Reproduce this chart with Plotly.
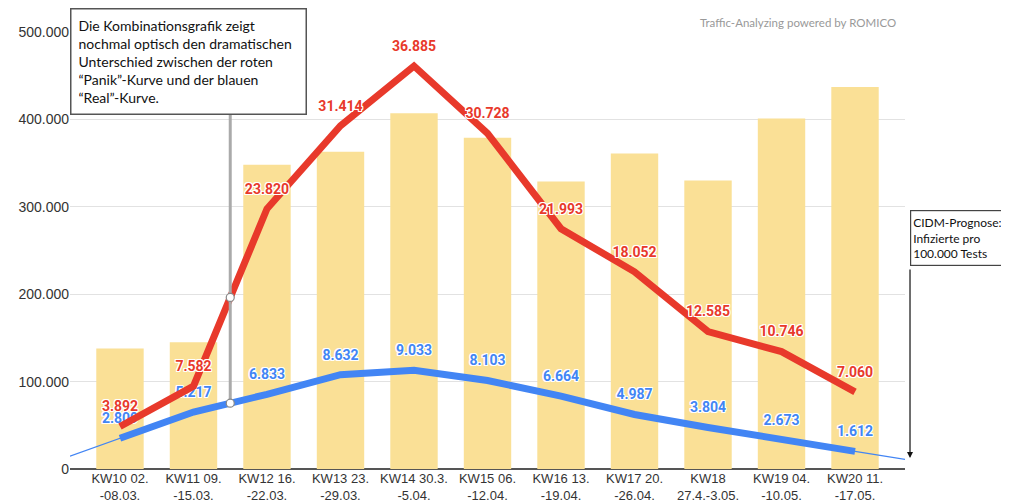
import plotly.graph_objects as go

categories = ["KW10 02.<br>-08.03.", "KW11 09.<br>-15.03.", "KW12 16.<br>-22.03.",
              "KW13 23.<br>-29.03.", "KW14 30.3.<br>-5.04.", "KW15 06.<br>-12.04.",
              "KW16 13.<br>-19.04.", "KW17 20.<br>-26.04.", "KW18<br>27.4.-3.05.",
              "KW19 04.<br>-10.05.", "KW20 11.<br>-17.05."]
tests = [138000, 145000, 348000, 363000, 407000, 379000, 329000, 361000, 330000, 401000, 437000]
panik = [3892, 7582, 23820, 31414, 36885, 30728, 21993, 18052, 12585, 10746, 7060]
real = [2809, 5217, 6833, 8632, 9033, 8103, 6664, 4987, 3804, 2673, 1612]

def fmt(v):
    return f"{v:,}".replace(",", ".")

idx = list(range(len(categories)))
XMIN, XMAX = -0.68, len(categories) - 1 + 0.68
Y2MAX = 40000

RED = "#E8392B"
BLUE = "#4285F4"
BAR = "#FAE096"

# thin extrapolated trend line for the blue series (from first and last segment)
ext_x = [XMIN] + idx + [XMAX + 0.2]
ext_y = ([real[0] - (real[1] - real[0]) * (0 - XMIN)] + real +
         [real[-1] + (real[-1] - real[-2]) * (XMAX + 0.2 - idx[-1])])

halo = "1px 1px 0 #fff, -1px -1px 0 #fff, 1px -1px 0 #fff, -1px 1px 0 #fff, 0 1px 0 #fff, 0 -1px 0 #fff, 1px 0 0 #fff, -1px 0 0 #fff"

fig = go.Figure()
fig.add_trace(go.Bar(x=idx, y=tests, marker=dict(color=BAR, line=dict(width=0)),
                     width=0.645, showlegend=False, hoverinfo="skip"))
fig.add_trace(go.Scatter(x=ext_x, y=ext_y, yaxis="y2", mode="lines",
                         line=dict(color=BLUE, width=1.2), showlegend=False, hoverinfo="skip"))
for series, col in ((real, BLUE), (panik, RED)):
    fig.add_trace(go.Scatter(x=idx, y=series, yaxis="y2", mode="lines+markers+text",
                             line=dict(color=col, width=7),
                             marker=dict(size=17, color="rgba(0,0,0,0)"),
                             text=[fmt(v) for v in series], textposition="top center",
                             textfont=dict(family="Roboto", size=14, color=col, weight="bold", shadow=halo),
                             cliponaxis=False, showlegend=False))

# pointer from the comment box (midway between KW11 and KW12)
px_ = 1.5
red_mid = (panik[1] + panik[2]) / 2
blue_mid = (real[1] + real[2]) / 2
shapes = [
    dict(type="line", xref="x", yref="paper", x0=px_, x1=px_, y0=0.81,
         y1=blue_mid / Y2MAX, line=dict(color="#AAAAAA", width=3), layer="above"),
]
for yv in (red_mid, blue_mid):
    shapes.append(dict(type="circle", xref="x", yref="y2", xsizemode="pixel", ysizemode="pixel",
                       xanchor=px_, yanchor=yv, x0=-4, x1=4, y0=-4, y1=4,
                       fillcolor="white", line=dict(color="#888888", width=1.2), layer="above"))

annotations = [
    dict(xref="paper", yref="paper", x=0, y=1.055, xanchor="left", yanchor="top",
         text=("Die Kombinationsgrafik zeigt<br>nochmal optisch den dramatischen<br>"
               "Unterschied zwischen der roten<br>“Panik”-Kurve und der blauen<br>“Real”-Kurve."),
         showarrow=False, align="left", bgcolor="white", bordercolor="#555555", borderwidth=1.5,
         borderpad=7, width=220, height=90, valign="top",
         font=dict(family="Lato", size=14, color="#111111")),
    dict(xref="paper", yref="paper", x=1.006, y=0.592, xanchor="left", yanchor="top",
         text="CIDM-Prognose:<br>Infizierte pro<br>100.000 Tests",
         showarrow=False, align="left", bgcolor="white", bordercolor="#444444", borderwidth=1.2,
         borderpad=2, width=130, height=50, valign="middle",
         font=dict(family="Lato", size=12, color="#111111")),
    dict(xref="paper", yref="paper", x=1.006, y=0.025, text="", showarrow=True,
         axref="pixel", ayref="pixel", ax=0, ay=-190, arrowhead=2, arrowsize=1,
         arrowwidth=1.2, arrowcolor="#111111"),
    dict(xref="paper", yref="paper", x=0.9915, y=1.0, xanchor="right", yanchor="bottom",
         yshift=1, text="Traffic-Analyzing powered by ROMICO", showarrow=False,
         font=dict(family="Lato", size=11.5, color="#999999")),
]

# the page body adds an 8px offset, so the figure is sized to fit the window
fig.update_layout(
    width=1001, height=496,
    margin=dict(l=62, r=104, t=24, b=35, autoexpand=False),
    plot_bgcolor="white", paper_bgcolor="white",
    separators=",.",
    showlegend=False,
    shapes=shapes,
    annotations=annotations,
    xaxis=dict(range=[XMIN, XMAX], tickvals=idx, ticktext=categories, showgrid=False,
               zeroline=False, showline=False, ticks="", automargin=False,
               tickfont=dict(family="Liberation Sans", size=13, color="#333333")),
    yaxis=dict(range=[0, 500000], dtick=100000, tickformat=",d", showgrid=True,
               gridcolor="#E2E2E2", gridwidth=1, zeroline=True, zerolinecolor="#555555",
               zerolinewidth=2, showline=False, ticks="", automargin=False,
               tickfont=dict(family="Liberation Sans", size=14, color="#333333")),
    yaxis2=dict(range=[0, Y2MAX], overlaying="y", side="right", visible=False,
                showgrid=False, zeroline=False, automargin=False),
)

fig.write_html("out.html")
